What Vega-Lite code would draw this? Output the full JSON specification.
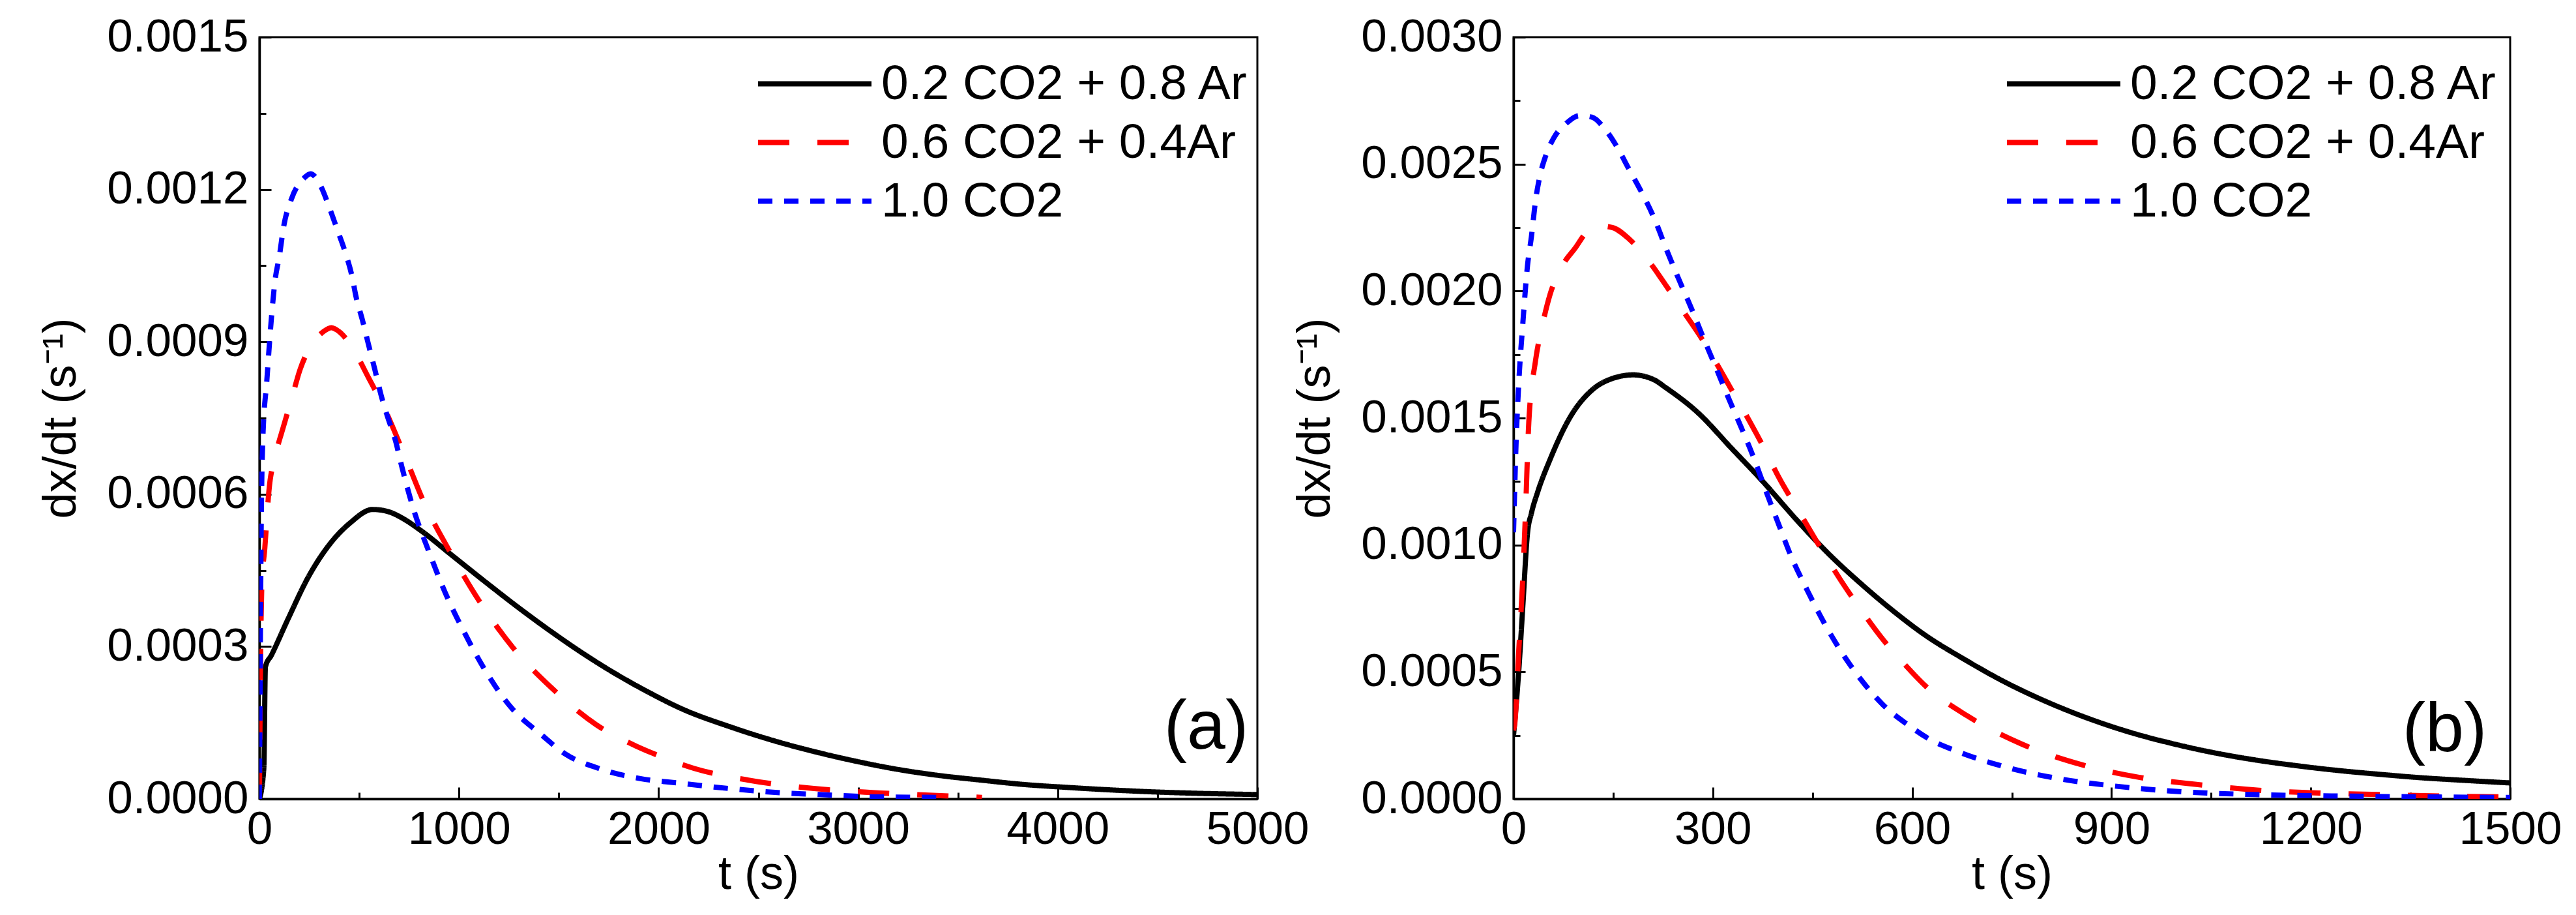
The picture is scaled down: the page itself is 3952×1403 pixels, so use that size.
{
  "$schema": "https://vega.github.io/schema/vega-lite/v6.json",
  "background": "white",
  "padding": {"left": 55, "top": 19, "right": 0, "bottom": 5},
  "bounds": "flush",
  "spacing": 393,
  "config": {
    "font": "Liberation Sans",
    "view": {"stroke": "black", "strokeWidth": 3},
    "axis": {
      "grid": false,
      "domainColor": "black",
      "domainWidth": 3.5,
      "tickColor": "black",
      "tickWidth": 3,
      "labelFont": "Liberation Sans",
      "labelFontSize": 71,
      "labelColor": "black",
      "labelLimit": 0,
      "titleFont": "Liberation Sans",
      "titleFontSize": 72,
      "titleFontWeight": "normal",
      "titleColor": "black",
      "labelFlush": false,
      "labelOverlap": false,
      "labelBound": false
    },
    "legend": {
      "padding": 0,
      "title": null,
      "labelFont": "Liberation Sans",
      "labelFontSize": 75,
      "labelColor": "black",
      "labelLimit": 0,
      "symbolType": "M-1,0H11",
      "symbolSize": 841,
      "symbolStrokeWidth": 8,
      "labelOffset": 137,
      "rowPadding": 14
    },
    "line": {"strokeWidth": 8, "strokeCap": "butt", "interpolate": "monotone"}
  },
  "resolve": {
    "scale": {"color": "independent", "strokeDash": "independent"},
    "legend": {"color": "independent", "strokeDash": "independent"}
  },
  "datasets": {
    "a": [
      {"series": "0.2 CO2 + 0.8 Ar", "t": 0, "rate": 0},
      {"series": "0.2 CO2 + 0.8 Ar", "t": 22, "rate": 0.00006},
      {"series": "0.2 CO2 + 0.8 Ar", "t": 30, "rate": 0.00026},
      {"series": "0.2 CO2 + 0.8 Ar", "t": 60, "rate": 0.000283},
      {"series": "0.2 CO2 + 0.8 Ar", "t": 143, "rate": 0.000354},
      {"series": "0.2 CO2 + 0.8 Ar", "t": 245, "rate": 0.000437},
      {"series": "0.2 CO2 + 0.8 Ar", "t": 349, "rate": 0.0005},
      {"series": "0.2 CO2 + 0.8 Ar", "t": 453, "rate": 0.000543},
      {"series": "0.2 CO2 + 0.8 Ar", "t": 568, "rate": 0.00057},
      {"series": "0.2 CO2 + 0.8 Ar", "t": 643, "rate": 0.000566},
      {"series": "0.2 CO2 + 0.8 Ar", "t": 720, "rate": 0.000552},
      {"series": "0.2 CO2 + 0.8 Ar", "t": 807, "rate": 0.000529},
      {"series": "0.2 CO2 + 0.8 Ar", "t": 970, "rate": 0.000478},
      {"series": "0.2 CO2 + 0.8 Ar", "t": 1133, "rate": 0.000427},
      {"series": "0.2 CO2 + 0.8 Ar", "t": 1297, "rate": 0.000377},
      {"series": "0.2 CO2 + 0.8 Ar", "t": 1460, "rate": 0.00033},
      {"series": "0.2 CO2 + 0.8 Ar", "t": 1623, "rate": 0.000286},
      {"series": "0.2 CO2 + 0.8 Ar", "t": 1786, "rate": 0.000246},
      {"series": "0.2 CO2 + 0.8 Ar", "t": 1950, "rate": 0.00021},
      {"series": "0.2 CO2 + 0.8 Ar", "t": 2113, "rate": 0.000178},
      {"series": "0.2 CO2 + 0.8 Ar", "t": 2366, "rate": 0.000141},
      {"series": "0.2 CO2 + 0.8 Ar", "t": 2574, "rate": 0.000115},
      {"series": "0.2 CO2 + 0.8 Ar", "t": 2782, "rate": 0.000093},
      {"series": "0.2 CO2 + 0.8 Ar", "t": 2991, "rate": 0.000074},
      {"series": "0.2 CO2 + 0.8 Ar", "t": 3200, "rate": 0.000058},
      {"series": "0.2 CO2 + 0.8 Ar", "t": 3408, "rate": 0.000046},
      {"series": "0.2 CO2 + 0.8 Ar", "t": 3616, "rate": 0.000037},
      {"series": "0.2 CO2 + 0.8 Ar", "t": 3824, "rate": 0.0000286},
      {"series": "0.2 CO2 + 0.8 Ar", "t": 4033, "rate": 0.000023},
      {"series": "0.2 CO2 + 0.8 Ar", "t": 4449, "rate": 0.0000143},
      {"series": "0.2 CO2 + 0.8 Ar", "t": 5000, "rate": 0.0000086},
      {"series": "0.6 CO2 + 0.4Ar", "t": 0, "rate": 0},
      {"series": "0.6 CO2 + 0.4Ar", "t": 5, "rate": 0.00025},
      {"series": "0.6 CO2 + 0.4Ar", "t": 12, "rate": 0.00042},
      {"series": "0.6 CO2 + 0.4Ar", "t": 27, "rate": 0.000494},
      {"series": "0.6 CO2 + 0.4Ar", "t": 48, "rate": 0.000608},
      {"series": "0.6 CO2 + 0.4Ar", "t": 79, "rate": 0.000674},
      {"series": "0.6 CO2 + 0.4Ar", "t": 121, "rate": 0.000734},
      {"series": "0.6 CO2 + 0.4Ar", "t": 162, "rate": 0.000789},
      {"series": "0.6 CO2 + 0.4Ar", "t": 204, "rate": 0.000846},
      {"series": "0.6 CO2 + 0.4Ar", "t": 266, "rate": 0.000897},
      {"series": "0.6 CO2 + 0.4Ar", "t": 320, "rate": 0.00092},
      {"series": "0.6 CO2 + 0.4Ar", "t": 360, "rate": 0.000928},
      {"series": "0.6 CO2 + 0.4Ar", "t": 400, "rate": 0.00092},
      {"series": "0.6 CO2 + 0.4Ar", "t": 474, "rate": 0.000883},
      {"series": "0.6 CO2 + 0.4Ar", "t": 547, "rate": 0.000829},
      {"series": "0.6 CO2 + 0.4Ar", "t": 620, "rate": 0.000774},
      {"series": "0.6 CO2 + 0.4Ar", "t": 734, "rate": 0.00067},
      {"series": "0.6 CO2 + 0.4Ar", "t": 829, "rate": 0.00058},
      {"series": "0.6 CO2 + 0.4Ar", "t": 960, "rate": 0.000483},
      {"series": "0.6 CO2 + 0.4Ar", "t": 1101, "rate": 0.00039},
      {"series": "0.6 CO2 + 0.4Ar", "t": 1270, "rate": 0.000298},
      {"series": "0.6 CO2 + 0.4Ar", "t": 1460, "rate": 0.00022},
      {"series": "0.6 CO2 + 0.4Ar", "t": 1688, "rate": 0.000146},
      {"series": "0.6 CO2 + 0.4Ar", "t": 1888, "rate": 0.000104},
      {"series": "0.6 CO2 + 0.4Ar", "t": 1970, "rate": 0.00009},
      {"series": "0.6 CO2 + 0.4Ar", "t": 2178, "rate": 0.00006},
      {"series": "0.6 CO2 + 0.4Ar", "t": 2450, "rate": 0.000037},
      {"series": "0.6 CO2 + 0.4Ar", "t": 2711, "rate": 0.000023},
      {"series": "0.6 CO2 + 0.4Ar", "t": 2991, "rate": 0.0000143},
      {"series": "0.6 CO2 + 0.4Ar", "t": 3283, "rate": 0.0000086},
      {"series": "0.6 CO2 + 0.4Ar", "t": 3563, "rate": 0.000004},
      {"series": "0.6 CO2 + 0.4Ar", "t": 3620, "rate": 0.000003},
      {"series": "1.0 CO2", "t": 0, "rate": 0},
      {"series": "1.0 CO2", "t": 3, "rate": 0.0002},
      {"series": "1.0 CO2", "t": 8, "rate": 0.0005},
      {"series": "1.0 CO2", "t": 17, "rate": 0.000709},
      {"series": "1.0 CO2", "t": 37, "rate": 0.000823},
      {"series": "1.0 CO2", "t": 58, "rate": 0.000937},
      {"series": "1.0 CO2", "t": 79, "rate": 0.001023},
      {"series": "1.0 CO2", "t": 100, "rate": 0.001069},
      {"series": "1.0 CO2", "t": 121, "rate": 0.001126},
      {"series": "1.0 CO2", "t": 162, "rate": 0.001183},
      {"series": "1.0 CO2", "t": 225, "rate": 0.001223},
      {"series": "1.0 CO2", "t": 256, "rate": 0.001231},
      {"series": "1.0 CO2", "t": 308, "rate": 0.001206},
      {"series": "1.0 CO2", "t": 349, "rate": 0.001166},
      {"series": "1.0 CO2", "t": 391, "rate": 0.00112},
      {"series": "1.0 CO2", "t": 432, "rate": 0.001074},
      {"series": "1.0 CO2", "t": 464, "rate": 0.001029},
      {"series": "1.0 CO2", "t": 484, "rate": 0.000989},
      {"series": "1.0 CO2", "t": 516, "rate": 0.000943},
      {"series": "1.0 CO2", "t": 547, "rate": 0.000894},
      {"series": "1.0 CO2", "t": 578, "rate": 0.000846},
      {"series": "1.0 CO2", "t": 609, "rate": 0.000796},
      {"series": "1.0 CO2", "t": 640, "rate": 0.000755},
      {"series": "1.0 CO2", "t": 682, "rate": 0.000705},
      {"series": "1.0 CO2", "t": 713, "rate": 0.000655},
      {"series": "1.0 CO2", "t": 774, "rate": 0.000568},
      {"series": "1.0 CO2", "t": 849, "rate": 0.000487},
      {"series": "1.0 CO2", "t": 931, "rate": 0.000406},
      {"series": "1.0 CO2", "t": 1029, "rate": 0.000326},
      {"series": "1.0 CO2", "t": 1133, "rate": 0.000252},
      {"series": "1.0 CO2", "t": 1257, "rate": 0.000182},
      {"series": "1.0 CO2", "t": 1417, "rate": 0.000125},
      {"series": "1.0 CO2", "t": 1534, "rate": 0.000088},
      {"series": "1.0 CO2", "t": 1701, "rate": 0.00006},
      {"series": "1.0 CO2", "t": 1909, "rate": 0.00004},
      {"series": "1.0 CO2", "t": 2096, "rate": 0.0000314},
      {"series": "1.0 CO2", "t": 2366, "rate": 0.00002},
      {"series": "1.0 CO2", "t": 2637, "rate": 0.0000114},
      {"series": "1.0 CO2", "t": 2804, "rate": 0.0000086},
      {"series": "1.0 CO2", "t": 3095, "rate": 0.000004},
      {"series": "1.0 CO2", "t": 3400, "rate": 0.000003}
    ],
    "b": [
      {"series": "0.2 CO2 + 0.8 Ar", "t": 0, "rate": 0.00025},
      {"series": "0.2 CO2 + 0.8 Ar", "t": 8, "rate": 0.000509},
      {"series": "0.2 CO2 + 0.8 Ar", "t": 14, "rate": 0.00076},
      {"series": "0.2 CO2 + 0.8 Ar", "t": 21, "rate": 0.001046},
      {"series": "0.2 CO2 + 0.8 Ar", "t": 27, "rate": 0.001126},
      {"series": "0.2 CO2 + 0.8 Ar", "t": 36, "rate": 0.001206},
      {"series": "0.2 CO2 + 0.8 Ar", "t": 55, "rate": 0.001337},
      {"series": "0.2 CO2 + 0.8 Ar", "t": 86, "rate": 0.001507},
      {"series": "0.2 CO2 + 0.8 Ar", "t": 118, "rate": 0.00161},
      {"series": "0.2 CO2 + 0.8 Ar", "t": 149, "rate": 0.001656},
      {"series": "0.2 CO2 + 0.8 Ar", "t": 180, "rate": 0.00167},
      {"series": "0.2 CO2 + 0.8 Ar", "t": 212, "rate": 0.00165},
      {"series": "0.2 CO2 + 0.8 Ar", "t": 229, "rate": 0.00162},
      {"series": "0.2 CO2 + 0.8 Ar", "t": 278, "rate": 0.00152},
      {"series": "0.2 CO2 + 0.8 Ar", "t": 327, "rate": 0.001384},
      {"series": "0.2 CO2 + 0.8 Ar", "t": 376, "rate": 0.001248},
      {"series": "0.2 CO2 + 0.8 Ar", "t": 425, "rate": 0.001102},
      {"series": "0.2 CO2 + 0.8 Ar", "t": 474, "rate": 0.000966},
      {"series": "0.2 CO2 + 0.8 Ar", "t": 524, "rate": 0.000845},
      {"series": "0.2 CO2 + 0.8 Ar", "t": 573, "rate": 0.000737},
      {"series": "0.2 CO2 + 0.8 Ar", "t": 619, "rate": 0.000646},
      {"series": "0.2 CO2 + 0.8 Ar", "t": 677, "rate": 0.000552},
      {"series": "0.2 CO2 + 0.8 Ar", "t": 739, "rate": 0.000461},
      {"series": "0.2 CO2 + 0.8 Ar", "t": 802, "rate": 0.000383},
      {"series": "0.2 CO2 + 0.8 Ar", "t": 864, "rate": 0.000318},
      {"series": "0.2 CO2 + 0.8 Ar", "t": 927, "rate": 0.000263},
      {"series": "0.2 CO2 + 0.8 Ar", "t": 990, "rate": 0.000219},
      {"series": "0.2 CO2 + 0.8 Ar", "t": 1052, "rate": 0.000183},
      {"series": "0.2 CO2 + 0.8 Ar", "t": 1115, "rate": 0.000154},
      {"series": "0.2 CO2 + 0.8 Ar", "t": 1178, "rate": 0.000131},
      {"series": "0.2 CO2 + 0.8 Ar", "t": 1241, "rate": 0.000112},
      {"series": "0.2 CO2 + 0.8 Ar", "t": 1303, "rate": 0.000097},
      {"series": "0.2 CO2 + 0.8 Ar", "t": 1366, "rate": 0.0000834},
      {"series": "0.2 CO2 + 0.8 Ar", "t": 1428, "rate": 0.0000735},
      {"series": "0.2 CO2 + 0.8 Ar", "t": 1500, "rate": 0.0000629},
      {"series": "0.6 CO2 + 0.4Ar", "t": 0, "rate": 0.00027},
      {"series": "0.6 CO2 + 0.4Ar", "t": 2, "rate": 0.0003},
      {"series": "0.6 CO2 + 0.4Ar", "t": 8, "rate": 0.000589},
      {"series": "0.6 CO2 + 0.4Ar", "t": 14, "rate": 0.000874},
      {"series": "0.6 CO2 + 0.4Ar", "t": 18, "rate": 0.001126},
      {"series": "0.6 CO2 + 0.4Ar", "t": 23, "rate": 0.001484},
      {"series": "0.6 CO2 + 0.4Ar", "t": 33, "rate": 0.001724},
      {"series": "0.6 CO2 + 0.4Ar", "t": 43, "rate": 0.001861},
      {"series": "0.6 CO2 + 0.4Ar", "t": 55, "rate": 0.001987},
      {"series": "0.6 CO2 + 0.4Ar", "t": 74, "rate": 0.002102},
      {"series": "0.6 CO2 + 0.4Ar", "t": 93, "rate": 0.00217},
      {"series": "0.6 CO2 + 0.4Ar", "t": 111, "rate": 0.002235},
      {"series": "0.6 CO2 + 0.4Ar", "t": 130, "rate": 0.002256},
      {"series": "0.6 CO2 + 0.4Ar", "t": 149, "rate": 0.00225},
      {"series": "0.6 CO2 + 0.4Ar", "t": 174, "rate": 0.002205},
      {"series": "0.6 CO2 + 0.4Ar", "t": 205, "rate": 0.002113},
      {"series": "0.6 CO2 + 0.4Ar", "t": 230, "rate": 0.00202},
      {"series": "0.6 CO2 + 0.4Ar", "t": 256, "rate": 0.001919},
      {"series": "0.6 CO2 + 0.4Ar", "t": 281, "rate": 0.001822},
      {"series": "0.6 CO2 + 0.4Ar", "t": 306, "rate": 0.001713},
      {"series": "0.6 CO2 + 0.4Ar", "t": 331, "rate": 0.001598},
      {"series": "0.6 CO2 + 0.4Ar", "t": 356, "rate": 0.001484},
      {"series": "0.6 CO2 + 0.4Ar", "t": 375, "rate": 0.001392},
      {"series": "0.6 CO2 + 0.4Ar", "t": 400, "rate": 0.001263},
      {"series": "0.6 CO2 + 0.4Ar", "t": 431, "rate": 0.001126},
      {"series": "0.6 CO2 + 0.4Ar", "t": 462, "rate": 0.000989},
      {"series": "0.6 CO2 + 0.4Ar", "t": 494, "rate": 0.000855},
      {"series": "0.6 CO2 + 0.4Ar", "t": 525, "rate": 0.000737},
      {"series": "0.6 CO2 + 0.4Ar", "t": 556, "rate": 0.000628},
      {"series": "0.6 CO2 + 0.4Ar", "t": 587, "rate": 0.000535},
      {"series": "0.6 CO2 + 0.4Ar", "t": 620, "rate": 0.000445},
      {"series": "0.6 CO2 + 0.4Ar", "t": 683, "rate": 0.000327},
      {"series": "0.6 CO2 + 0.4Ar", "t": 764, "rate": 0.000217},
      {"series": "0.6 CO2 + 0.4Ar", "t": 852, "rate": 0.000137},
      {"series": "0.6 CO2 + 0.4Ar", "t": 940, "rate": 0.0000857},
      {"series": "0.6 CO2 + 0.4Ar", "t": 1028, "rate": 0.0000571},
      {"series": "0.6 CO2 + 0.4Ar", "t": 1122, "rate": 0.0000343},
      {"series": "0.6 CO2 + 0.4Ar", "t": 1215, "rate": 0.0000229},
      {"series": "0.6 CO2 + 0.4Ar", "t": 1303, "rate": 0.0000171},
      {"series": "0.6 CO2 + 0.4Ar", "t": 1397, "rate": 0.0000114},
      {"series": "0.6 CO2 + 0.4Ar", "t": 1500, "rate": 0.000008},
      {"series": "1.0 CO2", "t": 0, "rate": 0.00105},
      {"series": "1.0 CO2", "t": 4, "rate": 0.001415},
      {"series": "1.0 CO2", "t": 8, "rate": 0.001644},
      {"series": "1.0 CO2", "t": 14, "rate": 0.001873},
      {"series": "1.0 CO2", "t": 21, "rate": 0.0021},
      {"series": "1.0 CO2", "t": 27, "rate": 0.002216},
      {"series": "1.0 CO2", "t": 33, "rate": 0.002354},
      {"series": "1.0 CO2", "t": 39, "rate": 0.002445},
      {"series": "1.0 CO2", "t": 49, "rate": 0.002537},
      {"series": "1.0 CO2", "t": 61, "rate": 0.002605},
      {"series": "1.0 CO2", "t": 80, "rate": 0.002662},
      {"series": "1.0 CO2", "t": 99, "rate": 0.002691},
      {"series": "1.0 CO2", "t": 118, "rate": 0.002685},
      {"series": "1.0 CO2", "t": 137, "rate": 0.00264},
      {"series": "1.0 CO2", "t": 155, "rate": 0.002571},
      {"series": "1.0 CO2", "t": 174, "rate": 0.002479},
      {"series": "1.0 CO2", "t": 193, "rate": 0.002388},
      {"series": "1.0 CO2", "t": 212, "rate": 0.002285},
      {"series": "1.0 CO2", "t": 230, "rate": 0.002165},
      {"series": "1.0 CO2", "t": 249, "rate": 0.002045},
      {"series": "1.0 CO2", "t": 268, "rate": 0.00193},
      {"series": "1.0 CO2", "t": 287, "rate": 0.001808},
      {"series": "1.0 CO2", "t": 306, "rate": 0.00169},
      {"series": "1.0 CO2", "t": 324, "rate": 0.001576},
      {"series": "1.0 CO2", "t": 343, "rate": 0.001461},
      {"series": "1.0 CO2", "t": 362, "rate": 0.00134},
      {"series": "1.0 CO2", "t": 381, "rate": 0.001205},
      {"series": "1.0 CO2", "t": 400, "rate": 0.001075},
      {"series": "1.0 CO2", "t": 418, "rate": 0.000954},
      {"series": "1.0 CO2", "t": 443, "rate": 0.000817},
      {"series": "1.0 CO2", "t": 468, "rate": 0.000691},
      {"series": "1.0 CO2", "t": 494, "rate": 0.000577},
      {"series": "1.0 CO2", "t": 525, "rate": 0.000463},
      {"series": "1.0 CO2", "t": 556, "rate": 0.000371},
      {"series": "1.0 CO2", "t": 594, "rate": 0.000291},
      {"series": "1.0 CO2", "t": 631, "rate": 0.000228},
      {"series": "1.0 CO2", "t": 664, "rate": 0.000191},
      {"series": "1.0 CO2", "t": 740, "rate": 0.000126},
      {"series": "1.0 CO2", "t": 820, "rate": 0.00008},
      {"series": "1.0 CO2", "t": 902, "rate": 0.0000514},
      {"series": "1.0 CO2", "t": 990, "rate": 0.0000309},
      {"series": "1.0 CO2", "t": 1115, "rate": 0.0000171},
      {"series": "1.0 CO2", "t": 1241, "rate": 0.0000114},
      {"series": "1.0 CO2", "t": 1366, "rate": 0.000008},
      {"series": "1.0 CO2", "t": 1500, "rate": 0.0000057}
    ],
    "tagA": [{"tag": "(a)"}],
    "tagB": [{"tag": "(b)"}]
  },
  "hconcat": [
    {
      "width": 1531,
      "height": 1168,
      "layer": [
        {
          "data": {"name": "a"},
          "mark": {"type": "line", "clip": true},
          "encoding": {
            "x": {
              "field": "t", "type": "quantitative",
              "scale": {"domain": [0, 5000], "nice": false},
              "axis": {
                "title": "t (s)",
                "values": [0, 500, 1000, 1500, 2000, 2500, 3000, 3500, 4000, 4500, 5000],
                "format": "d",
                "labelExpr": "datum.value % 1000 === 0 ? datum.label : ''",
                "tickSize": {"condition": {"test": "datum.value % 1000 !== 0", "value": -10}, "value": -18},
                "labelPadding": 30,
                "titlePadding": -10
              }
            },
            "y": {
              "field": "rate", "type": "quantitative",
              "scale": {"domain": [0, 0.0015], "nice": false},
              "axis": {
                "title": "dx/dt (s⁻¹)",
                "values": [0, 0.00015, 0.0003, 0.00045, 0.0006, 0.00075, 0.0009, 0.00105, 0.0012, 0.00135, 0.0015],
                "format": ".4f",
                "labelExpr": "round(datum.value * 100000) % 30 === 0 ? datum.label : ''",
                "tickSize": {"condition": {"test": "round(datum.value * 100000) % 30 !== 0", "value": -10}, "value": -18},
                "labelPadding": 35,
                "titlePadding": 68
              }
            },
            "color": {
              "field": "series", "type": "nominal",
              "scale": {"domain": ["0.2 CO2 + 0.8 Ar", "0.6 CO2 + 0.4Ar", "1.0 CO2"], "range": ["#000000", "#ff0000", "#0000ff"]},
              "legend": {"orient": "none", "legendX": 742, "legendY": 34}
            },
            "strokeDash": {
              "field": "series", "type": "nominal",
              "scale": {"domain": ["0.2 CO2 + 0.8 Ar", "0.6 CO2 + 0.4Ar", "1.0 CO2"], "range": [[1, 0], [48, 43], [22, 18]]},
              "legend": {"orient": "none", "legendX": 742, "legendY": 34}
            }
          }
        },
        {
          "data": {"name": "tagA"},
          "mark": {"type": "text", "fontSize": 106, "align": "right", "baseline": "middle", "font": "Liberation Sans", "color": "black"},
          "encoding": {
            "x": {"datum": 4955, "type": "quantitative"},
            "y": {"datum": 0.00014, "type": "quantitative"},
            "text": {"field": "tag"}
          }
        }
      ]
    },
    {
      "width": 1529,
      "height": 1168,
      "layer": [
        {
          "data": {"name": "b"},
          "mark": {"type": "line", "clip": true},
          "encoding": {
            "x": {
              "field": "t", "type": "quantitative",
              "scale": {"domain": [0, 1500], "nice": false},
              "axis": {
                "title": "t (s)",
                "values": [0, 150, 300, 450, 600, 750, 900, 1050, 1200, 1350, 1500],
                "format": "d",
                "labelExpr": "datum.value % 300 === 0 ? datum.label : ''",
                "tickSize": {"condition": {"test": "datum.value % 300 !== 0", "value": -10}, "value": -18},
                "labelPadding": 30,
                "titlePadding": -10
              }
            },
            "y": {
              "field": "rate", "type": "quantitative",
              "scale": {"domain": [0, 0.003], "nice": false},
              "axis": {
                "title": "dx/dt (s⁻¹)",
                "values": [0, 0.00025, 0.0005, 0.00075, 0.001, 0.00125, 0.0015, 0.00175, 0.002, 0.00225, 0.0025, 0.00275, 0.003],
                "format": ".4f",
                "labelExpr": "round(datum.value * 100000) % 50 === 0 ? datum.label : ''",
                "tickSize": {"condition": {"test": "round(datum.value * 100000) % 50 !== 0", "value": -10}, "value": -18},
                "labelPadding": 35,
                "titlePadding": 68
              }
            },
            "color": {
              "field": "series", "type": "nominal",
              "scale": {"domain": ["0.2 CO2 + 0.8 Ar", "0.6 CO2 + 0.4Ar", "1.0 CO2"], "range": ["#000000", "#ff0000", "#0000ff"]},
              "legend": {"orient": "none", "legendX": 734, "legendY": 34}
            },
            "strokeDash": {
              "field": "series", "type": "nominal",
              "scale": {"domain": ["0.2 CO2 + 0.8 Ar", "0.6 CO2 + 0.4Ar", "1.0 CO2"], "range": [[1, 0], [48, 43], [22, 18]]},
              "legend": {"orient": "none", "legendX": 734, "legendY": 34}
            }
          }
        },
        {
          "data": {"name": "tagB"},
          "mark": {"type": "text", "fontSize": 106, "align": "right", "baseline": "middle", "font": "Liberation Sans", "color": "black"},
          "encoding": {
            "x": {"datum": 1465, "type": "quantitative"},
            "y": {"datum": 0.00027, "type": "quantitative"},
            "text": {"field": "tag"}
          }
        }
      ]
    }
  ]
}
